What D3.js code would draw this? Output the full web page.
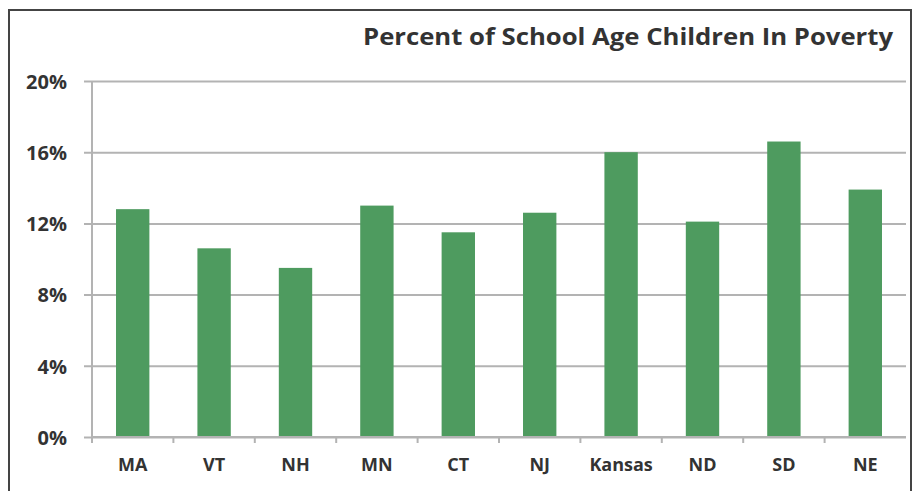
<html>
<body style="margin:0;background:#fff">
<svg width="914" height="491"></svg>
<script src="https://d3js.org/d3.v7.min.js"></script>
<script>
    const states = ["MA", "VT", "NH", "MN", "CT", "NJ", "Kansas", "ND", "SD", "NE"];
    const poverty = [12.8, 10.6, 9.5, 13.0, 11.5, 12.6, 16.0, 12.1, 16.6, 13.9];
    const yTicks = [0, 4, 8, 12, 16, 20];
    const title = "Percent of School Age Children In Poverty";

    const font = "'Open Sans', Lato, sans-serif";
    const plotLeft = 92, plotRight = 906, plotTop = 81, plotBottom = 437;

    const svg = d3.select("svg").style("font-family", font);

    // frame
    svg.append("rect")
        .attr("x", 9).attr("y", 10)
        .attr("width", 902).attr("height", 500)
        .attr("fill", "none")
        .attr("stroke", "#444")
        .attr("stroke-width", 2);

    const x = d3.scaleBand().domain(states).range([plotLeft, plotRight]).paddingInner(0.59).paddingOuter(0.295);
    const y = d3.scaleLinear().domain([0, 20]).range([plotBottom, plotTop]);

    // gridlines + y labels
    const yAxis = svg.append("g")
        .attr("transform", `translate(${plotLeft},0)`)
        .call(d3.axisLeft(y).tickValues(yTicks).tickSize(-(plotRight - plotLeft)).tickPadding(0).tickFormat(d => d + "%"));
    yAxis.select(".domain").remove();
    yAxis.selectAll(".tick line").attr("stroke", "#b3b3b3").attr("stroke-width", 2).attr("x1", -8);
    yAxis.selectAll(".tick text")
        .attr("x", -25)
        .attr("dy", "0.36em")
        .attr("fill", "#333")
        .style("font-size", "20px")
        .style("font-weight", "bold")
        .style("font-family", font);

    svg.append("line")
        .attr("x1", plotLeft).attr("x2", plotLeft)
        .attr("y1", plotTop).attr("y2", plotBottom)
        .attr("stroke", "#b3b3b3").attr("stroke-width", 2);

    // bars
    svg.append("g")
        .attr("fill", "#4e9b5f")
        .selectAll("rect")
        .data(states)
        .join("rect")
        .attr("x", d => x(d))
        .attr("width", x.bandwidth())
        .attr("y", (d, i) => y(poverty[i]))
        .attr("height", (d, i) => y(0) - y(poverty[i]));

    // x axis
    const step = x.step();
    const bounds = d3.range(states.length + 1).map(i => plotLeft + i * step);
    svg.append("line")
        .attr("x1", plotLeft).attr("x2", plotRight)
        .attr("y1", plotBottom).attr("y2", plotBottom)
        .attr("stroke", "#b3b3b3").attr("stroke-width", 2);
    svg.append("g").selectAll("line")
        .data(bounds.slice(0, -1))
        .join("line")
        .attr("x1", d => d).attr("x2", d => d)
        .attr("y1", plotBottom).attr("y2", plotBottom + 6)
        .attr("stroke", "#b3b3b3").attr("stroke-width", 2);

    svg.append("g").selectAll("text")
        .data(states)
        .join("text")
        .attr("x", d => x(d) + x.bandwidth() / 2)
        .attr("y", 471)
        .attr("text-anchor", "middle")
        .attr("fill", "#333")
        .style("font-size", "18px")
        .style("font-weight", "bold")
        .text(d => d);

    // title
    svg.append("text")
        .attr("x", 893).attr("y", 45)
        .attr("text-anchor", "end")
        .attr("fill", "#333")
        .attr("textLength", 530)
        .attr("lengthAdjust", "spacingAndGlyphs")
        .style("font-size", "24px")
        .style("font-weight", "bold")
        .text(title);
</script>
</body>
</html>
